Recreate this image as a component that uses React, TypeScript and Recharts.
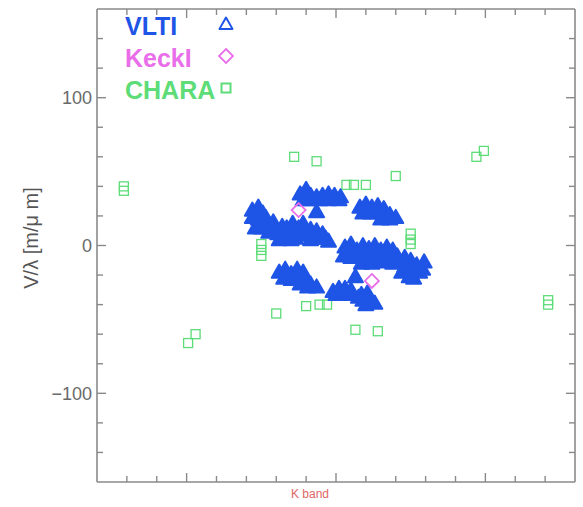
import React from 'react';
import { ScatterChart, Scatter, XAxis, YAxis, Legend } from 'recharts';

const BLUE = '#1f55e6';
const PINK = '#e96ee9';
const GREEN = '#5ddc78';
const AXIS = '#8a8a8a';
const FONT = 'Liberation Sans, Arial, sans-serif';

type UV = [number, number];

// VLTI uv tracks, [u, v] in m/µm
const vltiUpperLeft: UV[] = [
  [-56, 24], [-52, 26], [-49, 22], [-56, 19], [-52, 18], [-48, 16], [-54, 12],
  [-50, 12], [-45, 13], [-45, 9], [-41, 12], [-39, 8], [-36, 13], [-34, 7],
  [-31, 10], [-29, 15], [-27, 5], [-25, 12], [-22, 15], [-21, 7], [-17, 11],
  [-17, 4], [-13, 10], [-11, 5], [-7, 5], [-5, 3], [-30, 4], [-38, 4],
  [-53, 21], [-47, 19], [-42, 16], [-33, 12], [-24, 8], [-15, 7], [-9, 8],
];
const vltiLowerRight: UV[] = [
  [6, -1], [10, 1], [14, -3], [18, 0], [22, -2], [26, 0], [30, -3], [34, -1],
  [38, -3], [5, -7], [10, -8], [15, -8], [21, -7], [26, -8], [31, -8], [36, -8],
  [41, -7], [17, -12], [24, -12], [29, -11], [38, -12], [42, -10], [46, -8],
  [50, -10], [54, -13], [46, -14], [51, -17], [56, -18], [44, -18], [49, -21],
  [52, -22], [58, -16], [59, -11], [12, -4], [20, -4], [28, -5], [36, -5],
  [33, -10],
];
const vltiTop: UV[] = [
  [-24, 35], [-20, 38], [-17, 34], [-13, 33], [-9, 34], [-5, 35], [-1, 34],
  [3, 33], [-19, 31], [-11, 31], [-5, 31], [2, 31], [-22, 31], [-13, 23],
];
const vltiBottom: UV[] = [
  [-2, -31], [2, -29], [6, -29], [10, -30], [0, -33], [5, -33], [10, -33],
  [17, -33], [21, -32], [18, -37], [22, -37], [26, -39], [20, -40], [15, -35],
  [13, -21],
];
const vltiUpperRight: UV[] = [
  [16, 26], [20, 28], [24, 26], [28, 27], [32, 25], [18, 22], [23, 22],
  [28, 22], [32, 21], [36, 21], [40, 19], [30, 18], [36, 18],
];
const vltiLowerLeft: UV[] = [
  [-38, -18], [-34, -16], [-30, -19], [-26, -16], [-22, -18], [-35, -22],
  [-30, -23], [-25, -22], [-20, -23], [-17, -26], [-13, -28], [-24, -26],
  [-19, -28],
];

// Keck I uv points
const keckI: UV[] = [[-25, 24], [24, -24]];

// CHARA uv points
const chara: UV[] = [
  [-142, 40], [-142, 37], [142, -40], [142, -37],
  [-99, -66], [-94, -60], [99, 64], [94, 60],
  [-50, 1], [-50, -3], [-50, -7], [50, 8], [50, 4], [50, 1],
  [-40, -46], [40, 47], [-28, 60], [28, -58], [-13, 57], [13, -57],
  [7, 41], [12, 41], [20, 41], [-6, -40], [-11, -40], [-20, -41],
];

const axisTicks = [-140, -120, -100, -80, -60, -40, -20, 0, 20, 40, 60, 80, 100, 120, 140];
const majorTicks = [-100, 0, 100];
const domain: [number, number] = [-160, 160];

const legendItems = [
  { name: 'VLTI', color: BLUE, marker: 'triangle' },
  { name: 'KeckI', color: PINK, marker: 'diamond' },
  { name: 'CHARA', color: GREEN, marker: 'square' },
];

const toPoints = (rows: UV[]) => rows.map(([u, v]) => ({ u, v }));
const vltiData = toPoints([
  ...vltiUpperLeft, ...vltiLowerRight, ...vltiTop,
  ...vltiBottom, ...vltiUpperRight, ...vltiLowerLeft,
]);
const keckData = toPoints(keckI);
const charaData = toPoints(chara);

const tickLen = (v: number) => (majorTicks.includes(v) ? 9 : 6);
const fmt = (v: number) => (v < 0 ? '\u2212' + Math.abs(v) : String(v));

const LeftTick = (p: any) => {
  const v = p.payload.value;
  return (
    <g>
      <line x1={p.x} x2={p.x + tickLen(v)} y1={p.y} y2={p.y} stroke={AXIS} strokeWidth={1.4} />
      {majorTicks.includes(v) && (
        <text x={p.x - 5} y={p.y} dy="0.35em" textAnchor="end" fontSize={18} fontFamily={FONT} fill="#6a6a6a">
          {fmt(v)}
        </text>
      )}
    </g>
  );
};
const RightTick = (p: any) => (
  <line x1={p.x} x2={p.x - tickLen(p.payload.value)} y1={p.y} y2={p.y} stroke={AXIS} strokeWidth={1.4} />
);
const BottomTick = (p: any) => (
  <line x1={p.x} x2={p.x} y1={p.y} y2={p.y - tickLen(p.payload.value)} stroke={AXIS} strokeWidth={1.4} />
);
const TopTick = (p: any) => (
  <line x1={p.x} x2={p.x} y1={p.y} y2={p.y + tickLen(p.payload.value)} stroke={AXIS} strokeWidth={1.4} />
);

const Triangle = ({ cx, cy, color, filled, r = 7.5 }: any) => (
  <polygon
    points={`${cx},${cy - r} ${cx + r},${cy + r * 0.75} ${cx - r},${cy + r * 0.75}`}
    fill={filled ? color : 'none'}
    stroke={color}
    strokeWidth={2}
    strokeLinejoin="round"
  />
);
const Diamond = ({ cx, cy, color }: any) => (
  <polygon
    points={`${cx},${cy - 7} ${cx + 7},${cy} ${cx},${cy + 7} ${cx - 7},${cy}`}
    fill="none"
    stroke={color}
    strokeWidth={1.8}
  />
);
const Square = ({ cx, cy, color, w = 1.3 }: any) => (
  <rect x={cx - 4.5} y={cy - 4.5} width={9} height={9} fill="none" stroke={color} strokeWidth={w} />
);

const markerFor = (m: string, cx: number, cy: number, color: string) => {
  if (m === 'triangle') return <Triangle cx={cx} cy={cy} color={color} r={6.5} />;
  if (m === 'diamond') return <Diamond cx={cx} cy={cy} color={color} />;
  return <Square cx={cx} cy={cy} color={color} w={2} />;
};

const LegendBox = () => (
  <svg width={260} height={110} style={{ position: 'absolute', left: 0, top: 0, overflow: 'visible' }}>
    {legendItems.map((item, i) => {
      const base = 35 + i * 32;
      return (
        <g key={item.name}>
          <text x={125} y={base} fontSize={25} fontWeight="bold" fontFamily={FONT} fill={item.color}>
            {item.name}
          </text>
          {markerFor(item.marker, 226, base - 11, item.color)}
        </g>
      );
    })}
  </svg>
);

export default function App() {
  return (
    <div style={{ position: 'absolute', left: 0, top: 0, background: '#fff' }}>
      <ScatterChart width={583} height={507} margin={{ top: 8, right: 7, bottom: 24, left: 96 }}>
        <XAxis
          xAxisId="b"
          orientation="bottom"
          type="number"
          dataKey="u"
          domain={domain}
          allowDataOverflow
          ticks={axisTicks}
          interval={0}
          height={1}
          tickSize={0}
          tickMargin={0}
          tickLine={false}
          tick={BottomTick}
          axisLine={{ stroke: AXIS, strokeWidth: 1.6 }}
          label={{
            content: () => (
              <text x={310} y={498} textAnchor="middle" fontSize={12} fontFamily={FONT} fill="#e06666">
                K band
              </text>
            ),
          }}
        />
        <XAxis
          xAxisId="t"
          orientation="top"
          type="number"
          dataKey="u"
          domain={domain}
          allowDataOverflow
          ticks={axisTicks}
          interval={0}
          height={1}
          tickSize={0}
          tickMargin={0}
          tickLine={false}
          tick={TopTick}
          axisLine={{ stroke: AXIS, strokeWidth: 1.6 }}
        />
        <YAxis
          yAxisId="l"
          orientation="left"
          type="number"
          dataKey="v"
          domain={domain}
          allowDataOverflow
          ticks={axisTicks}
          interval={0}
          width={1}
          tickSize={0}
          tickMargin={0}
          tickLine={false}
          tick={LeftTick}
          axisLine={{ stroke: AXIS, strokeWidth: 1.6 }}
          label={{
            content: () => (
              <text
                x={38}
                y={238}
                transform="rotate(-90 38 238)"
                textAnchor="middle"
                fontSize={20}
                fontFamily={FONT}
                fill="#555"
              >
                V/λ [m/μ m]
              </text>
            ),
          }}
        />
        <YAxis
          yAxisId="r"
          orientation="right"
          type="number"
          dataKey="v"
          domain={domain}
          allowDataOverflow
          ticks={axisTicks}
          interval={0}
          width={1}
          tickSize={0}
          tickMargin={0}
          tickLine={false}
          tick={RightTick}
          axisLine={{ stroke: AXIS, strokeWidth: 1.6 }}
        />
        <Legend
          layout="horizontal"
          verticalAlign="middle"
          align="center"
          wrapperStyle={{ left: 0, top: 0, width: 260, height: 110 }}
          content={() => <LegendBox />}
        />
        <Scatter
          name="CHARA"
          data={charaData}
          xAxisId="b"
          yAxisId="l"
          isAnimationActive={false}
          shape={(p: any) => <Square cx={p.cx} cy={p.cy} color={GREEN} />}
        />
        <Scatter
          name="VLTI"
          data={vltiData}
          xAxisId="b"
          yAxisId="l"
          isAnimationActive={false}
          shape={(p: any) => <Triangle cx={p.cx} cy={p.cy} color={BLUE} filled />}
        />
        <Scatter
          name="KeckI"
          data={keckData}
          xAxisId="b"
          yAxisId="l"
          isAnimationActive={false}
          shape={(p: any) => <Diamond cx={p.cx} cy={p.cy} color={PINK} />}
        />
      </ScatterChart>
    </div>
  );
}
